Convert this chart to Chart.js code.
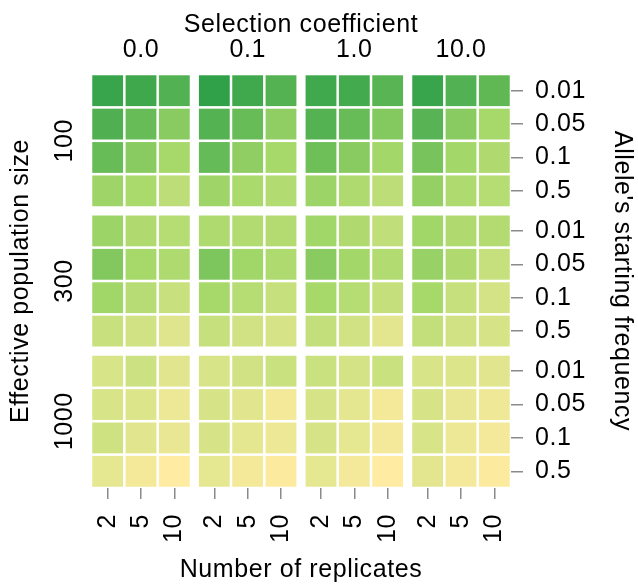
<!DOCTYPE html>
<html>
<head>
<meta charset="utf-8">
<script src="https://cdn.jsdelivr.net/npm/chart.js@4.4.0/dist/chart.umd.min.js"></script>
<style>
  html, body { margin: 0; padding: 0; background: #fff; }
  #wrap { width: 638px; height: 585px; }
</style>
</head>
<body>
<div id="wrap"><canvas id="heat"></canvas></div>
<script>
const selection = ['0.0', '0.1', '1.0', '10.0'];
const replicates = ['2', '5', '10'];
const popSizes = ['100', '300', '1000'];
const startFreqs = ['0.01', '0.05', '0.1', '0.5'];

// cell score (0 = pale yellow, 1 = dark green)
// one row per starting frequency, 12 columns = selection x replicates
const score100 = [
  [0.96, 0.93, 0.85,  0.99, 0.92, 0.84,  0.92, 0.91, 0.82,  0.96, 0.85, 0.79],
  [0.86, 0.76, 0.62,  0.84, 0.76, 0.59,  0.84, 0.76, 0.64,  0.83, 0.62, 0.50],
  [0.76, 0.62, 0.50,  0.77, 0.59, 0.50,  0.73, 0.62, 0.51,  0.69, 0.51, 0.45],
  [0.53, 0.48, 0.39,  0.53, 0.48, 0.44,  0.54, 0.46, 0.39,  0.57, 0.46, 0.42]
];
const score300 = [
  [0.54, 0.45, 0.42,  0.46, 0.44, 0.43,  0.52, 0.45, 0.37,  0.52, 0.45, 0.43],
  [0.65, 0.50, 0.46,  0.67, 0.52, 0.46,  0.62, 0.51, 0.44,  0.56, 0.45, 0.34],
  [0.52, 0.41, 0.33,  0.50, 0.42, 0.34,  0.50, 0.42, 0.35,  0.50, 0.34, 0.27],
  [0.33, 0.29, 0.21,  0.34, 0.29, 0.26,  0.36, 0.29, 0.18,  0.36, 0.29, 0.26]
];
const score1000 = [
  [0.25, 0.31, 0.19,  0.25, 0.29, 0.32,  0.32, 0.27, 0.32,  0.25, 0.22, 0.19],
  [0.25, 0.22, 0.12,  0.26, 0.19, 0.08,  0.26, 0.17, 0.08,  0.26, 0.14, 0.10],
  [0.30, 0.19, 0.14,  0.26, 0.17, 0.12,  0.26, 0.16, 0.07,  0.25, 0.12, 0.07],
  [0.16, 0.08, 0.00,  0.16, 0.08, 0.02,  0.16, 0.07, 0.00,  0.18, 0.07, 0.02]
];
const scores = [score100, score300, score1000];

const rampStops = [
  [0, '#FFEBA1'], [0.25, '#D8E488'], [0.5, '#A6D86A'], [0.75, '#6ABD58'], [1, '#2E9F48']
];

function hexRgb(h) {
  return [1, 3, 5].map(i => parseInt(h.substr(i, 2), 16));
}
function scoreColor(v) {
  for (let i = 1; i < rampStops.length; i++) {
    const [t1, c1] = rampStops[i];
    const [t0, c0] = rampStops[i - 1];
    if (v <= t1) {
      const f = (v - t0) / (t1 - t0);
      const a = hexRgb(c0), b = hexRgb(c1);
      const c = a.map((x, k) => Math.round(x + (b[k] - x) * f));
      return `rgb(${c[0]},${c[1]},${c[2]})`;
    }
  }
  return rampStops[rampStops.length - 1][1];
}

// block layout: small gap between groups (in cell units)
const GAP = 0.2;
const nCol = replicates.length, nRow = startFreqs.length;
const colPos = [], colLabels = [], groupX = [];
selection.forEach((s, g) => {
  groupX.push(g * (nCol + GAP) + (nCol - 1) / 2);
  replicates.forEach((r, i) => { colPos.push(g * (nCol + GAP) + i); colLabels.push(r); });
});
const rowPos = [], rowLabels = [], groupY = [];
popSizes.forEach((n, g) => {
  groupY.push(g * (nRow + GAP) + (nRow - 1) / 2);
  startFreqs.forEach((f, j) => { rowPos.push(g * (nRow + GAP) + j); rowLabels.push(f); });
});
const xMax = colPos[colPos.length - 1] + 0.5;
const yMax = rowPos[rowPos.length - 1] + 0.5;

const cells = [];
scores.forEach((block, g) => {
  block.forEach((row, j) => {
    row.forEach((v, c) => {
      cells.push({ x: colPos[c], y: rowPos[g * nRow + j], v: v });
    });
  });
});

const font = { family: 'Liberation Sans, Arial, sans-serif', size: 25 };
const tickGray = '#8a8a8a';

function cellRadius(ctx) {
  const xs = ctx.chart.scales.x;
  const w = Math.abs(xs.getPixelForValue(1) - xs.getPixelForValue(0));
  return (w - 2.5) / (2 * Math.SQRT1_2);
}

// the reference text runs a little wider than Liberation Sans
const wideText = {
  id: 'wideText',
  beforeDraw(chart) { chart.ctx.letterSpacing = '0.6px'; },
  afterDraw(chart) { chart.ctx.letterSpacing = '0px'; }
};

new Chart(document.getElementById('heat'), {
  type: 'scatter',
  data: {
    datasets: [{
      data: cells,
      pointStyle: 'rect',
      pointRadius: cellRadius,
      pointHoverRadius: cellRadius,
      pointBorderWidth: 0,
      backgroundColor: ctx => scoreColor(ctx.raw ? ctx.raw.v : 0)
    }]
  },
  plugins: [wideText],
  options: {
    responsive: true,
    maintainAspectRatio: false,
    animation: false,
    events: [],
    layout: { padding: 0 },
    plugins: { legend: { display: false }, tooltip: { enabled: false } },
    scales: {
      x: {
        type: 'linear', position: 'bottom', min: -0.5, max: xMax,
        afterBuildTicks: s => { s.ticks = colPos.map(v => ({ value: v })); },
        afterFit: s => { s.height = 97; },
        ticks: { callback: (v, i) => colLabels[i], autoSkip: false, minRotation: 90, maxRotation: 90, color: '#000', font: font, padding: 15 },
        grid: { drawOnChartArea: false, drawTicks: true, tickLength: 11, color: tickGray, lineWidth: 1.5 },
        border: { display: false },
        title: { display: true, text: 'Number of replicates', color: '#000', font: font, padding: { top: 0, bottom: 0 } }
      },
      x2: {
        type: 'linear', position: 'top', min: -0.5, max: xMax,
        afterBuildTicks: s => { s.ticks = groupX.map(v => ({ value: v })); },
        afterFit: s => { s.height = 74; },
        ticks: { callback: (v, i) => selection[i], autoSkip: false, maxRotation: 0, color: '#000', font: font, padding: 9 },
        grid: { drawOnChartArea: false, drawTicks: false },
        border: { display: false },
        title: { display: true, text: 'Selection coefficient', color: '#000', font: font, padding: { top: 10, bottom: 0 } }
      },
      y: {
        type: 'linear', position: 'right', reverse: true, min: -0.5, max: yMax,
        afterBuildTicks: s => { s.ticks = rowPos.map(v => ({ value: v })); },
        afterFit: s => { s.width = 127; },
        ticks: { callback: (v, i) => rowLabels[i], autoSkip: false, color: '#000', font: font, padding: 12 },
        grid: { drawOnChartArea: false, drawTicks: true, tickLength: 12, color: tickGray, lineWidth: 1.5 },
        border: { display: false },
        title: { display: true, text: "Allele's starting frequency", color: '#000', font: font, padding: { top: 1, bottom: 0 } }
      },
      y2: {
        type: 'linear', position: 'left', reverse: true, min: -0.5, max: yMax,
        afterBuildTicks: s => { s.ticks = groupY.map(v => ({ value: v })); },
        afterFit: s => { s.width = 91; },
        ticks: { callback: (v, i) => popSizes[i], autoSkip: false, minRotation: 90, maxRotation: 90, crossAlign: 'center', color: '#000', font: font, padding: -2 },
        grid: { drawOnChartArea: false, drawTicks: false },
        border: { display: false },
        title: { display: true, text: 'Effective population size', color: '#000', font: font, padding: { top: 6, bottom: 0 } }
      }
    }
  }
});
</script>
</body>
</html>
